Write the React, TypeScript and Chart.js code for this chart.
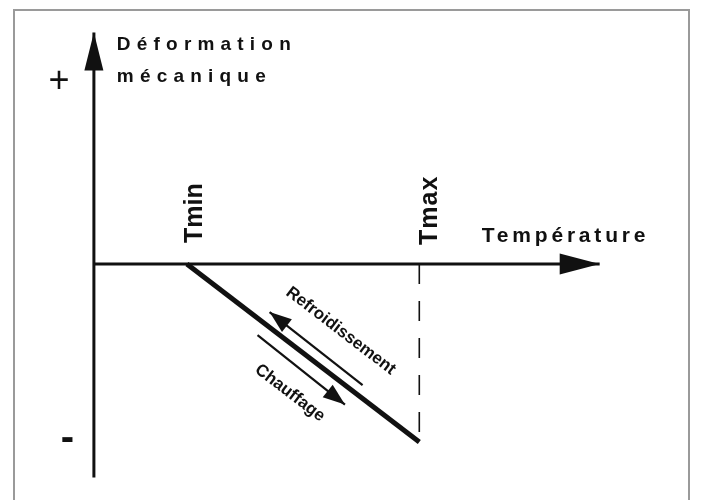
import React, { useEffect, useRef } from 'react';
import { Chart, registerables } from 'chart.js';

Chart.register(...registerables);

// Schematic coordinate system: x = température (Tmin = 1, Tmax = 3.5), y = déformation mécanique
const xRange = [-1.01, 6.53];
const yRange = [-1.326, 1.483];

const tMin = 1;
const tMax = 3.5;
const deformAtTmax = -1;

const yAxisLine = [{ x: 0, y: -1.2 }, { x: 0, y: 1.3 }];
const xAxisLine = [{ x: 0, y: 0 }, { x: 5.44, y: 0 }];
const mainLine = [{ x: tMin, y: 0 }, { x: tMax, y: deformAtTmax }];
const tMaxDrop = [{ x: tMax, y: 0 }, { x: tMax, y: deformAtTmax }];
const coolingArrow = [{ x: 2.89, y: -0.68 }, { x: 1.89, y: -0.27 }];
const heatingArrow = [{ x: 1.76, y: -0.4 }, { x: 2.7, y: -0.79 }];

const labelTexts = ['Déformation', 'mécanique', 'Température', 'Tmin', 'Tmax', '+', '-', 'Refroidissement', 'Chauffage'];
const labelX = [0.247, 0.247, 4.172, 1.158, 3.69, -0.376, -0.285, 2.656, 2.108];
const labelY = [1.202, 1.022, 0.124, 0.118, 0.107, 1.022, -0.983, -0.376, -0.725];

const FONT = '"Liberation Sans", Arial, Helvetica, sans-serif';
const labelStyles = [
  { font: `bold 19px ${FONT}`, spacing: 6.2, align: 'left', baseline: 'alphabetic', rotate: 0 },
  { font: `bold 19px ${FONT}`, spacing: 6.2, align: 'left', baseline: 'alphabetic', rotate: 0 },
  { font: `bold 21px ${FONT}`, spacing: 3.8, align: 'left', baseline: 'alphabetic', rotate: 0 },
  { font: `bold 25px ${FONT}`, spacing: 0, align: 'left', baseline: 'alphabetic', rotate: -90 },
  { font: `bold 25px ${FONT}`, spacing: 1, align: 'left', baseline: 'alphabetic', rotate: -90 },
  { font: `36px ${FONT}`, spacing: 0, align: 'center', baseline: 'middle', rotate: 0 },
  { font: `bold 40px ${FONT}`, spacing: 0, align: 'center', baseline: 'middle', rotate: 0 },
  { font: `bold 17px ${FONT}`, spacing: 0, align: 'center', baseline: 'middle', rotate: 'line' },
  { font: `bold 17px ${FONT}`, spacing: 0, align: 'center', baseline: 'middle', rotate: 'line' },
];

const arrowHeads = [
  { line: yAxisLine, length: 38, halfWidth: 9.5 },
  { line: xAxisLine, length: 40, halfWidth: 10.5 },
  { line: coolingArrow, length: 22, halfWidth: 8 },
  { line: heatingArrow, length: 22, halfWidth: 8 },
];

const INK = '#111111';

const diagramPlugin = {
  id: 'diagram',
  afterDatasetsDraw(chart: any) {
    const { ctx } = chart;
    const xs = chart.scales.x;
    const ys = chart.scales.y;
    const px = (p: { x: number; y: number }) => ({ X: xs.getPixelForValue(p.x), Y: ys.getPixelForValue(p.y) });
    ctx.save();
    ctx.fillStyle = INK;
    for (const a of arrowHeads) {
      const n = a.line.length;
      const tip = px(a.line[n - 1]);
      const prev = px(a.line[n - 2]);
      const ang = Math.atan2(tip.Y - prev.Y, tip.X - prev.X);
      const c = Math.cos(ang);
      const s = Math.sin(ang);
      ctx.beginPath();
      ctx.moveTo(tip.X, tip.Y);
      ctx.lineTo(tip.X - a.length * c - a.halfWidth * s, tip.Y - a.length * s + a.halfWidth * c);
      ctx.lineTo(tip.X - a.length * c + a.halfWidth * s, tip.Y - a.length * s - a.halfWidth * c);
      ctx.closePath();
      ctx.fill();
    }
    const p0 = px(mainLine[0]);
    const p1 = px(mainLine[1]);
    const lineAngle = Math.atan2(p1.Y - p0.Y, p1.X - p0.X);
    labelTexts.forEach((text, i) => {
      const st: any = labelStyles[i];
      const p = px({ x: labelX[i], y: labelY[i] });
      ctx.save();
      ctx.translate(p.X, p.Y);
      ctx.rotate(st.rotate === 'line' ? lineAngle : (st.rotate * Math.PI) / 180);
      ctx.font = st.font;
      try {
        ctx.letterSpacing = `${st.spacing}px`;
      } catch (e) {}
      ctx.textAlign = st.align;
      ctx.textBaseline = st.baseline;
      ctx.fillStyle = INK;
      ctx.fillText(text, 0, 0);
      ctx.restore();
    });
    ctx.restore();
  },
};

export default function App() {
  const canvasRef = useRef<HTMLCanvasElement | null>(null);

  useEffect(() => {
    if (!canvasRef.current) return;
    const seg = (data: any[], width: number, dash: number[] = []) => ({
      data,
      showLine: true,
      borderColor: INK,
      borderWidth: width,
      borderDash: dash,
      pointRadius: 0,
      fill: false,
      tension: 0,
      borderCapStyle: 'butt',
    });
    const chart = new Chart(canvasRef.current, {
      type: 'scatter',
      data: {
        datasets: [
          seg(yAxisLine, 3),
          seg(xAxisLine, 3),
          seg(tMaxDrop, 1.6, [20, 17]),
          seg(mainLine, 5),
          seg(coolingArrow, 2.2),
          seg(heatingArrow, 2.2),
        ] as any,
      },
      options: {
        responsive: false,
        animation: false,
        events: [],
        layout: { padding: 0 },
        plugins: { legend: { display: false }, tooltip: { enabled: false } },
        scales: {
          x: { type: 'linear', min: xRange[0], max: xRange[1], display: false },
          y: { type: 'linear', min: yRange[0], max: yRange[1], display: false },
        },
      },
      plugins: [diagramPlugin],
    });
    return () => chart.destroy();
  }, []);

  return (
    <div style={{ position: 'fixed', left: 0, top: 0, width: 701, height: 500, overflow: 'hidden', background: '#ffffff' }}>
      <canvas ref={canvasRef} width={701} height={500} style={{ position: 'absolute', left: 0, top: 0 }} />
      <div
        style={{
          position: 'absolute',
          left: 13,
          top: 9,
          width: 673,
          height: 520,
          border: '2px solid #9a9a9a',
          pointerEvents: 'none',
        }}
      />
    </div>
  );
}
